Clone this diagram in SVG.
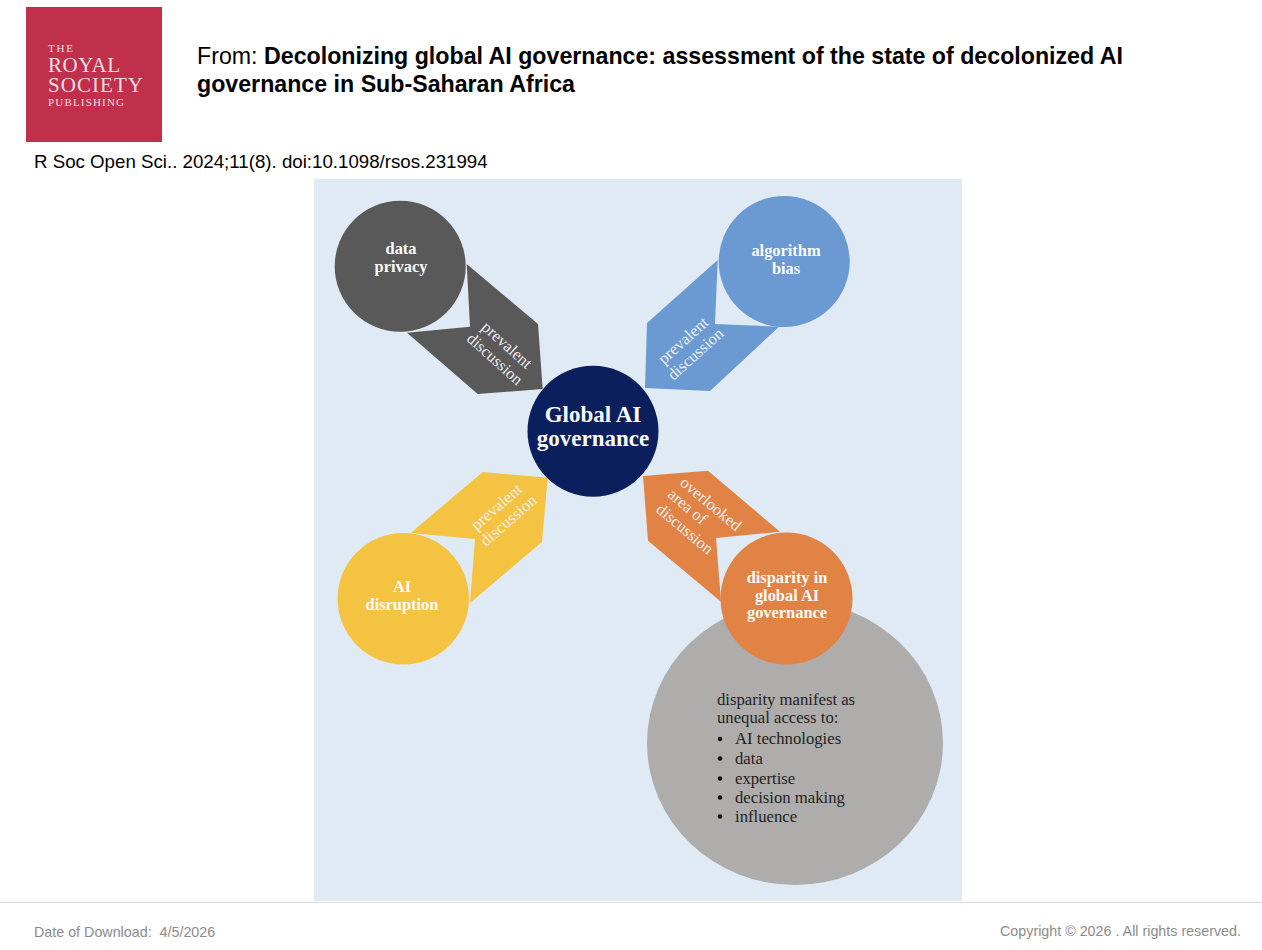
<svg xmlns="http://www.w3.org/2000/svg" width="1262" height="950" viewBox="0 0 1262 950">
<style>
.s{font-family:"Liberation Sans",Arial,sans-serif}
.t{font-family:"Liberation Serif","Times New Roman",serif}
.b{font-weight:bold;fill:#fbfbfb;text-anchor:middle;font-size:16.400px}
.r{fill:#eee;font-size:16.500px;text-anchor:middle}
.l{font-size:16.700px;fill:#222}
.logo{fill:#f3dfe2}
.foot{font-size:14.300px;fill:#8c8c8c;white-space:pre}
</style>
<rect width="1262" height="950" fill="#fff"/>
<g id="header">
<rect x="26" y="7" width="136" height="135" fill="#c1304b"/>
<text class="t logo" x="48" y="52" font-size="11" textLength="25">THE</text>
<text class="t logo" x="48" y="72" font-size="21" textLength="72">ROYAL</text>
<text class="t logo" x="48" y="92" font-size="21" textLength="95">SOCIETY</text>
<text class="t logo" x="48" y="105.500" font-size="11" textLength="76">PUBLISHING</text>
<text class="s" x="197" y="64" font-size="23.200" fill="#000">From: <tspan font-weight="bold">Decolonizing global AI governance: assessment of the state of decolonized AI</tspan></text>
<text class="s" x="197" y="92" font-size="23.200" font-weight="bold" fill="#000">governance in Sub-Saharan Africa</text>
<text class="s" x="34" y="168" font-size="18.700" fill="#000">R Soc Open Sci.. 2024;11(8). doi:10.1098/rsos.231994</text>
</g>
<rect id="panel" x="314" y="179" width="648" height="722" fill="#e0eaf5"/>
<g id="connectors">
<g id="conn-privacy"><path d="M466.700 264L538 324L542.700 389L477.700 394L407 332.700L470 326.700Z" fill="#595959"/>
<text class="t r" transform="translate(503.300 349) rotate(42)">prevalent</text><text class="t r" transform="translate(491.300 363) rotate(42)">discussion</text></g>
<g id="conn-bias"><path d="M717.700 260L647 323L645 388L710 391L779 326.700L715 324Z" fill="#6a9ad1"/>
<text class="t r" transform="translate(686.700 344.500) rotate(-42)">prevalent</text><text class="t r" transform="translate(699 358) rotate(-42)">discussion</text></g>
<g id="conn-disruption"><path d="M410.700 533L482.700 472L547.700 477.700L542 542L470 603L475 539Z" fill="#f5c342"/>
<text class="t r" transform="translate(500 511) rotate(-41)">prevalent</text><text class="t r" transform="translate(512 524.500) rotate(-41)">discussion</text></g>
<g id="conn-disparity"><path d="M780 531.700L708 470.700L643 476L648 540.700L721 601.700L716 538Z" fill="#e08344"/>
<text class="t r" transform="translate(707.400 508) rotate(40)">overlooked</text><text class="t r" transform="translate(684 510.600) rotate(40)">area of</text><text class="t r" transform="translate(681.400 533) rotate(40)">discussion</text></g>
</g>
<g id="node-detail"><ellipse cx="795" cy="743" rx="148" ry="142" fill="#aeadab"/>
<text class="t l" x="717" y="705">disparity manifest as</text>
<text class="t l" x="717" y="723">unequal access to:</text>
<g fill="#111"><circle cx="720" cy="739" r="2.300"/><circle cx="720" cy="758.500" r="2.300"/><circle cx="720" cy="778.500" r="2.300"/><circle cx="720" cy="797.500" r="2.300"/><circle cx="720" cy="816.500" r="2.300"/></g>
<text class="t l" x="735" y="744">AI technologies</text>
<text class="t l" x="735" y="764">data</text>
<text class="t l" x="735" y="784">expertise</text>
<text class="t l" x="735" y="803">decision making</text>
<text class="t l" x="735" y="822">influence</text></g>
<g id="node-privacy"><circle cx="400.200" cy="266.300" r="65.500" fill="#595959"/><text class="t b" x="401" y="254">data</text><text class="t b" x="401" y="272">privacy</text></g>
<g id="node-bias"><circle cx="784.200" cy="261.500" r="65.500" fill="#6a9ad1"/><text class="t b" x="786" y="256">algorithm</text><text class="t b" x="786" y="274">bias</text></g>
<g id="node-global"><circle cx="593" cy="431.300" r="65.500" fill="#0a1f5c"/><text class="t b" x="593" y="421.500" style="font-size:23px">Global AI</text><text class="t b" x="593" y="445.500" style="font-size:23px">governance</text></g>
<g id="node-disruption"><circle cx="403.300" cy="598.700" r="65.700" fill="#f5c342"/><text class="t b" x="402" y="592">AI</text><text class="t b" x="402" y="610">disruption</text></g>
<g id="node-disparity"><circle cx="786.500" cy="598.500" r="66" fill="#e08344"/><text class="t b" x="787" y="583">disparity in</text><text class="t b" x="787" y="601">global AI</text><text class="t b" x="787" y="618">governance</text></g>
<g id="footer">
<line x1="0" y1="902.500" x2="1262" y2="902.500" stroke="#d8d8d8"/>
<text class="s foot" x="34" y="937">Date of Download:  4/5/2026</text>
<text class="s foot" x="1241" y="936" text-anchor="end">Copyright © 2026 . All rights reserved.</text>
</g>
</svg>
